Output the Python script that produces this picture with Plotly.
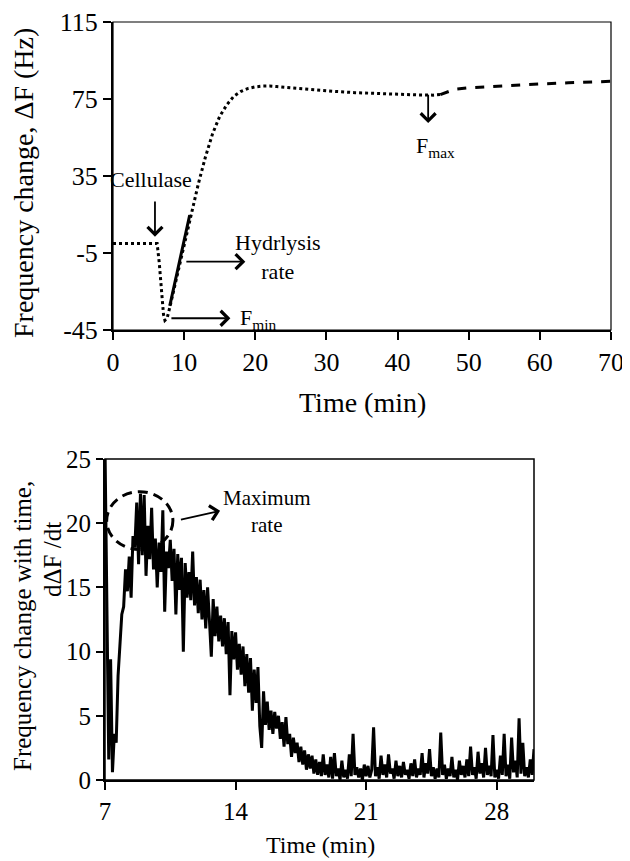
import plotly.graph_objects as go

# ---------------- Top chart data (frequency change vs time) ----------------
dot_time = [0, 3, 6.2, 6.5, 6.8, 7.1, 7.3, 7.6, 8.0, 9.0, 10.0, 11.0, 12.0, 13.0, 14.0,
            15.0, 16.0, 17.0, 18.0, 19.0, 20.0, 21.0, 22.0, 23.0, 25.0, 28.0, 31.0,
            34.0, 37.0, 40.0, 43.0, 45.0, 46.0]
dot_freq = [0, 0, 0, -10, -25, -37, -40, -39, -33, -17, -1, 16, 31, 45, 57,
            66, 72, 76.5, 79, 80.5, 81.3, 81.7, 81.8, 81.5, 80.8, 79.8, 79.0,
            78.3, 77.8, 77.4, 77.1, 77.0, 77.3]
dash_time = [46, 47, 48, 50, 53, 56, 60, 64, 67, 70]
dash_freq = [77.3, 78.8, 80.0, 80.8, 81.5, 82.1, 82.8, 83.4, 83.8, 84.2]
rate_time = [7.98, 10.78]
rate_freq = [-32.5, 14.7]

top_xticks = [0, 10, 20, 30, 40, 50, 60, 70]
top_yticks = [-45, -5, 35, 75, 115]
top_yticktext = ["-45", "-5", "35", "75", "115"]

# ---------------- Bottom chart data (dF/dt vs time, 0.1 min steps from 7.0) ----------------
rate_start = 7.0
rate_step = 0.1
dfdt = [
    26.0, 12.0, 1.6, 9.4, 0.6, 3.6, 2.9, 8.1, 10.2, 12.9,      # 7.0-7.9
    13.5, 16.4, 14.7, 17.4, 14.2, 19.0, 18.1, 21.6, 16.8, 22.3,  # 8.x
    17.5, 22.2, 15.9, 19.8, 17.2, 21.2, 16.4, 18.8, 15.0, 18.5,  # 9.x
    16.2, 21.0, 13.1, 17.8, 16.5, 18.7, 15.5, 18.0, 12.9, 17.6,  # 10.x
    14.8, 17.3, 10.0, 16.9, 14.2, 16.2, 14.0, 17.8, 13.6, 15.8,  # 11.x
    13.0, 15.6, 12.5, 14.8, 11.8, 15.0, 12.4, 9.6, 14.1, 11.2,   # 12.x
    13.5, 10.8, 12.8, 10.4, 12.6, 9.8, 12.3, 6.6, 11.6, 9.4,     # 13.x
    11.5, 8.6, 10.6, 8.2, 10.4, 7.3, 9.8, 6.8, 9.5, 5.4,         # 14.x
    8.6, 6.0, 8.8, 4.2, 2.5, 6.9, 4.3, 6.1, 3.9, 5.4,            # 15.x
    3.6, 5.3, 4.0, 5.0, 3.2, 4.5, 2.6, 4.9, 2.8, 3.6,            # 16.x
    1.8, 3.3, 2.1, 2.9, 1.4, 2.6, 1.2, 2.3, 0.8, 2.0,            # 17.x
    0.9, 1.9, 0.5, 1.6, 0.4, 1.4, 0.3, 2.0, 0.4, 1.2,            # 18.x
    0.2, 1.8, 0.1, 2.1, 0.3, 0.9, 0.0, 1.5, 0.2, 0.8,            # 19.x
    0.1, 2.0, 0.3, 3.6, 0.4, 1.0, 0.2, 0.9, 0.0, 1.2,            # 20.x
    0.3, 1.1, 0.2, 0.8, 4.1, 0.3, 1.0, 0.1, 1.9, 0.4,            # 21.x
    1.2, 0.2, 2.0, 0.5, 0.9, 0.1, 1.5, 0.3, 1.1, 0.2,            # 22.x
    1.4, 0.4, 0.8, 0.1, 1.3, 0.3, 1.6, 0.2, 0.9, 0.4,            # 23.x
    2.1, 0.2, 1.3, 0.5, 2.4, 0.3, 1.0, 0.1, 0.9, 0.2,            # 24.x
    3.7, 0.4, 1.2, 0.1, 0.9, 0.3, 1.8, 0.2, 0.8, 0.0,            # 25.x
    1.5, 0.4, 1.1, 0.2, 1.6, 0.3, 2.6, 0.4, 1.0, 0.1,            # 26.x
    2.2, 0.5, 1.3, 0.2, 2.5, 0.4, 1.1, 0.3, 3.5, 0.2,            # 27.x
    0.8, 0.1, 1.9, 0.4, 3.6, 0.3, 1.2, 0.1, 3.3, 0.6,            # 28.x
    1.5, 0.2, 4.8, 0.5, 2.9, 0.3, 1.0, 0.2, 1.6, 0.4,            # 29.x
    2.4,                                                         # 30.0
]
dfdt_time = [round(rate_start + rate_step * i, 2) for i in range(len(dfdt))]

bot_xticks = [7, 14, 21, 28]
bot_yticks = [0, 5, 10, 15, 20, 25]

FONT = "Liberation Serif, Times New Roman, serif"
OFF = 8                      # default page margin of the html body
W, H = 630 - OFF, 861 - OFF

fig = go.Figure()

fig.add_trace(go.Scatter(x=dot_time, y=dot_freq, mode="lines", xaxis="x", yaxis="y",
                         line=dict(color="black", width=3, dash="dot"), showlegend=False))
fig.add_trace(go.Scatter(x=dash_time, y=dash_freq, mode="lines", xaxis="x", yaxis="y",
                         line=dict(color="black", width=3, dash="dash"), showlegend=False))
fig.add_trace(go.Scatter(x=rate_time, y=rate_freq, mode="lines", xaxis="x", yaxis="y",
                         line=dict(color="black", width=3), showlegend=False))
fig.add_trace(go.Scatter(x=dfdt_time, y=dfdt, mode="lines", xaxis="x2", yaxis="y2",
                         line=dict(color="black", width=3), showlegend=False))

# plot area positions (pixels in the final screenshot)
top_l, top_r, top_t, top_b = 113, 611, 22, 330
bot_l, bot_r, bot_t, bot_b = 105, 534, 459, 780

def px(x):
    return (x - OFF) / W

def py(y):
    return 1 - (y - OFF) / H

axis_common = dict(showgrid=False, zeroline=False, showline=True, linecolor="black",
                   linewidth=2, ticks="outside", tickcolor="black", tickwidth=1.5,
                   automargin=False)

fig.update_layout(
    width=W, height=H,
    margin=dict(l=0, r=0, t=0, b=0),
    paper_bgcolor="white", plot_bgcolor="white",
    font=dict(family=FONT, color="black"),
    xaxis=dict(domain=[px(top_l), px(top_r)], anchor="y", range=[0, 70],
               tickvals=top_xticks, ticklen=8,
               tickfont=dict(family=FONT, size=26, color="black"), **axis_common),
    yaxis=dict(domain=[py(top_b), py(top_t)], anchor="x", range=[-45, 115],
               tickvals=top_yticks, ticktext=top_yticktext, ticklen=8,
               tickfont=dict(family=FONT, size=26, color="black"), **axis_common),
    xaxis2=dict(domain=[px(bot_l), px(bot_r)], anchor="y2", range=[7, 30],
                tickvals=bot_xticks, ticklen=8,
                tickfont=dict(family=FONT, size=25, color="black"), **axis_common),
    yaxis2=dict(domain=[py(bot_b), py(bot_t)], anchor="x2", range=[0, 25],
                tickvals=bot_yticks, ticklen=7,
                tickfont=dict(family=FONT, size=25, color="black"), **axis_common),
)

# thin top/right borders
fig.add_shape(type="rect", xref="x domain", yref="y domain", x0=0, x1=1, y0=0, y1=1,
              line=dict(color="black", width=1.2), layer="above")
fig.add_shape(type="rect", xref="x2 domain", yref="y2 domain", x0=0, x1=1, y0=0, y1=1,
              line=dict(color="black", width=1.5), layer="above")

# dashed ellipse around maximum rate
fig.add_shape(type="circle", xref="x2", yref="y2", x0=7.09, x1=10.64, y0=17.95, y1=22.45,
              line=dict(color="black", width=3, dash="10px,6px"))

def arrow(x, y, ax, ay, xr="x", yr="y"):
    fig.add_annotation(x=x, y=y, ax=ax, ay=ay, xref=xr, yref=yr, axref=xr, ayref=yr,
                       text="", showarrow=True, arrowhead=4, arrowsize=1.6,
                       arrowwidth=1.8, arrowcolor="black", standoff=0, startstandoff=0)

def label(x, y, text, size, xr="x", yr="y", xanchor="center", angle=0):
    fig.add_annotation(x=x, y=y, xref=xr, yref=yr, text=text, showarrow=False,
                       xanchor=xanchor, yanchor="middle", textangle=angle,
                       font=dict(family=FONT, size=size, color="black"))

# top chart annotations
label(5.3, 33, "Cellulase", 22)
arrow(5.9, 3.5, 5.9, 22.5)
arrow(18.6, -9.5, 10.1, -9.5)
label(23.2, -7.3, "Hydrlysis<br>rate", 22)
arrow(16.5, -38.9, 8.0, -38.9)
label(17.6, -39.5, "F<sub>min</sub>", 22, xanchor="left")
arrow(44.3, 62.5, 44.3, 78)
label(45.3, 50, "F<sub>max</sub>", 22)

# bottom chart annotations
arrow(13.17, 20.97, 10.99, 20.25, "x2", "y2")
label(15.7, 20.95, "Maximum<br>rate", 21, "x2", "y2")

# axis titles
label(px(24), py(183), "Frequency change, ΔF (Hz)", 28, "paper", "paper", angle=-90)
label(px(362), py(402), "Time (min)", 28, "paper", "paper")
label(px(22), py(626), "Frequency change with time,", 25, "paper", "paper", angle=-90)
label(px(52), py(560), "dΔF /dt", 25, "paper", "paper", angle=-90)
label(px(320), py(845), "Time (min)", 24, "paper", "paper")

fig.write_html("out.html")
